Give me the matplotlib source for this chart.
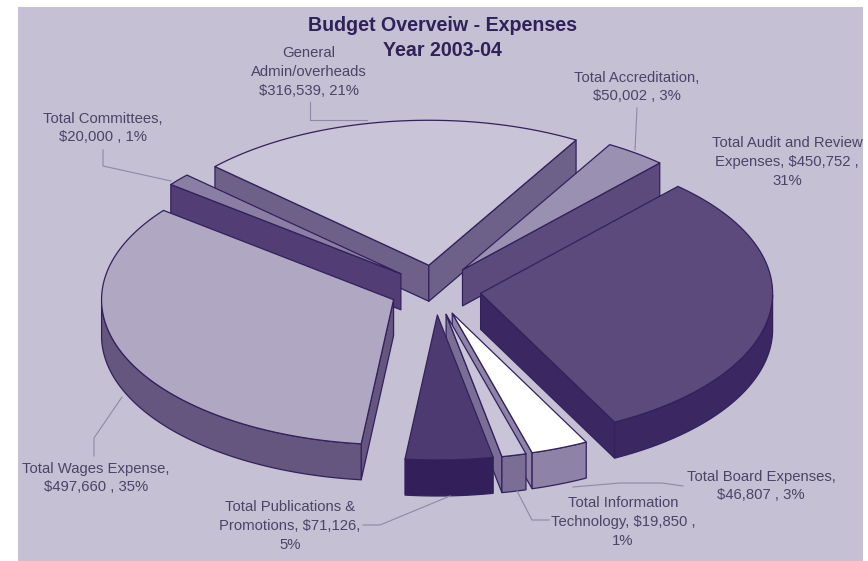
import numpy as np
import matplotlib
matplotlib.use('Agg')
import matplotlib.pyplot as plt
from matplotlib.patches import Polygon, Rectangle

plt.rcParams['font.family'] = ['Liberation Sans', 'DejaVu Sans']

# expenses, clockwise from the first slice
names = ['Total Audit and Review\nExpenses, $450,752 ,\n31%',
         'Total Board Expenses,\n$46,807 , 3%',
         'Total Information\nTechnology, $19,850 ,\n1%',
         'Total Publications &\nPromotions, $71,126,\n5%',
         'Total Wages Expense,\n$497,660 , 35%',
         'Total Committees,\n$20,000 , 1%',
         'General\nAdmin/overheads\n$316,539, 21%',
         'Total Accreditation,\n$50,002 , 3%']
values = [450752, 46807, 19850, 71126, 497660, 20000, 316539, 50002]

top_colors = ['#5B4A7B', '#FFFFFF', '#C9C4D8', '#4D3A70', '#B0A8C3', '#8A7EA4', '#C9C4D8', '#9A90B2']
side_colors = ['#3B2862', '#8E83A7', '#7B6E96', '#33205A', '#65567F', '#523D74', '#6E6189', '#5B4A7B']

label_pos = [(787, 162), (761, 486), (623, 522), (290, 526), (96, 478), (103, 128), (309, 72), (637, 87)]
title_lines = ['Budget Overveiw - Expenses', 'Year 2003-04']

# leader lines from each label to its slice
leaders = [None,
           ([573, 620, 662, 683], [487, 483, 483, 486]),
           ([517, 532, 549], [491, 520, 520]),
           ([363, 380, 450], [525, 525, 496]),
           ([94, 94, 122], [456, 438, 397]),
           ([103, 103, 171], [150, 166, 181]),
           ([310, 310, 367], [102, 120, 120]),
           ([637, 635], [108, 150])]

# pie geometry in pixels
cx, cy = 435.5, 290
rx, ry = 292, 145
ex, ey = 45.5, 25
depth = 36
start = 47.5
edge = '#33215C'

sweeps = np.array(values) / sum(values) * 360
ends = start - np.cumsum(sweeps)
starts = ends + sweeps

fig = plt.figure(figsize=(8.68, 5.61), dpi=100, facecolor='white')
ax = fig.add_axes([0, 0, 1, 1])
ax.set_xlim(0, 868)
ax.set_ylim(561, 0)
ax.axis('off')
ax.add_patch(Rectangle((18, 7), 845, 554, fc='#C5C0D3', ec='none', zorder=0))


def rim(apex, deg):
    t = np.radians(deg)
    return apex[0] + rx * np.cos(t), apex[1] - ry * np.sin(t)


def cut_face(apex, deg, inner, color):
    # a radial face only shows when the drop goes away from the slice
    p = rim(apex, deg)
    ux, uy = p[0] - apex[0], p[1] - apex[1]
    vx, vy = inner[0] - apex[0], inner[1] - apex[1]
    if (ux * vy - uy * vx) * ux > 0:
        return
    pts = [apex, p, (p[0], p[1] + depth), (apex[0], apex[1] + depth)]
    ax.add_patch(Polygon(pts, fc=color, ec=edge, lw=0.9, joinstyle='round'))


def draw_slice(i):
    a0, a1 = starts[i], ends[i]
    mid = np.radians((a0 + a1) / 2)
    apex = (cx + ex * np.cos(mid), cy - ey * np.sin(mid))
    inner = rim(apex, (a0 + a1) / 2)
    cut_face(apex, a0, inner, side_colors[i])
    cut_face(apex, a1, inner, side_colors[i])

    # outer wall, front half of the rim only
    arc = np.linspace(a0, a1, 120)
    arc = arc[np.sin(np.radians(arc)) <= 0]
    if len(arc) > 1:
        xs, ys = rim(apex, arc)
        pts = np.r_[np.c_[xs, ys], np.c_[xs, ys + depth][::-1]]
        ax.add_patch(Polygon(pts, fc=side_colors[i], ec=edge, lw=0.9))

    xs, ys = rim(apex, np.linspace(a0, a1, 120))
    pts = np.r_[[apex], np.c_[xs, ys]]
    ax.add_patch(Polygon(pts, fc=top_colors[i], ec=edge, lw=0.9, joinstyle='round'))


# back slices first so the nearer ones overlap them
for i in [6, 7, 5, 0, 4, 1, 2, 3]:
    draw_slice(i)

for line in leaders:
    if line is not None:
        ax.plot(line[0], line[1], color='#8F88A6', lw=0.8, zorder=1)

for name, pos in zip(names, label_pos):
    ax.text(pos[0], pos[1], name, ha='center', va='center', fontsize=10.7,
            color='#4C4468', linespacing=1.41)

ax.text(442, 25, title_lines[0], ha='center', va='center', fontsize=14.1,
        fontweight='bold', color='#2E2258')
ax.text(442, 50, title_lines[1], ha='center', va='center', fontsize=14.1,
        fontweight='bold', color='#2E2258')

fig.savefig('out.png', dpi=100, facecolor='white')
